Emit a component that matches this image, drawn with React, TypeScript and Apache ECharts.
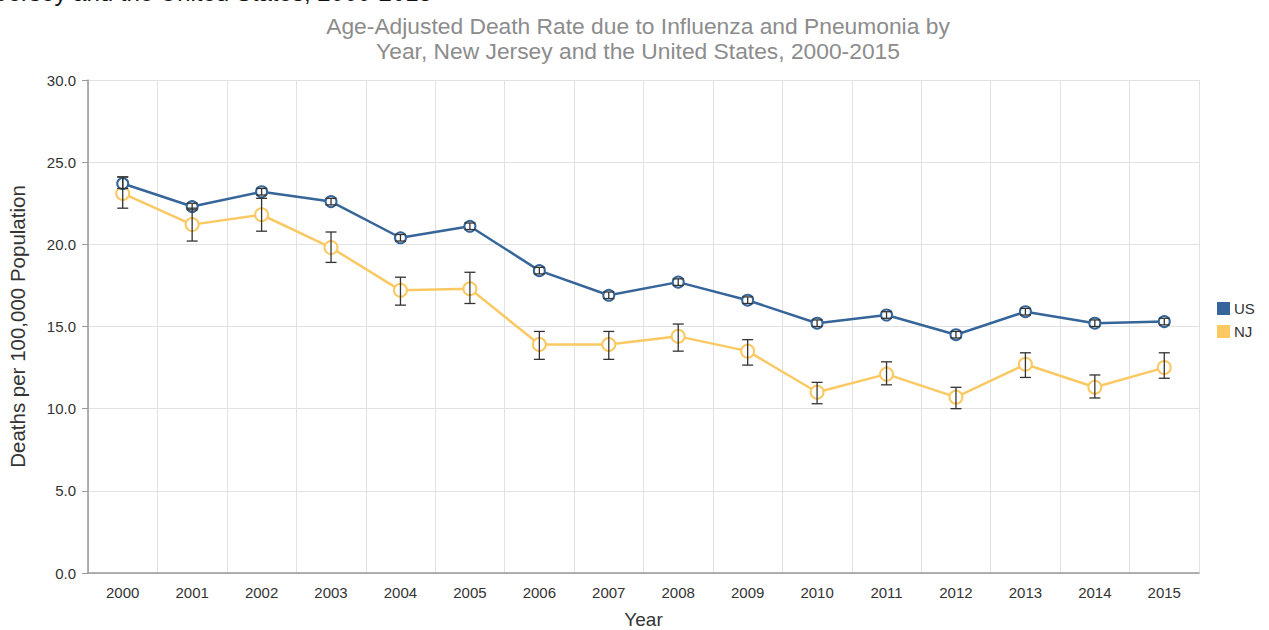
import React, { useEffect, useRef } from "react";
import * as echarts from "echarts";

const years = ["2000","2001","2002","2003","2004","2005","2006","2007","2008","2009","2010","2011","2012","2013","2014","2015"];
const usValues = [23.7, 22.3, 23.2, 22.6, 20.4, 21.1, 18.4, 16.9, 17.7, 16.6, 15.2, 15.7, 14.5, 15.9, 15.2, 15.3];
const usLow = [23.4, 22.1, 23.0, 22.4, 20.2, 20.9, 18.2, 16.7, 17.5, 16.4, 15.0, 15.5, 14.3, 15.7, 15.0, 15.1];
const usHigh = [24.1, 22.5, 23.4, 22.8, 20.6, 21.3, 18.6, 17.1, 17.9, 16.8, 15.4, 15.9, 14.7, 16.1, 15.4, 15.5];
const njValues = [23.1, 21.2, 21.8, 19.8, 17.2, 17.3, 13.9, 13.9, 14.4, 13.5, 11.0, 12.1, 10.7, 12.7, 11.3, 12.5];
const njLow = [22.2, 20.2, 20.8, 18.9, 16.3, 16.4, 13.0, 13.0, 13.5, 12.65, 10.3, 11.45, 10.0, 11.9, 10.65, 11.85];
const njHigh = [24.1, 22.2, 22.8, 20.75, 18.0, 18.3, 14.7, 14.7, 15.15, 14.2, 11.6, 12.85, 11.3, 13.4, 12.05, 13.4];

const US_COLOR = "#36659a";
const NJ_COLOR = "#fbc964";
const FONT = "Arial, Liberation Sans, sans-serif";

function errorSeries(name: string, low: number[], high: number[]) {
  return {
    type: "custom",
    name: name + " error",
    z: 5,
    silent: true,
    data: years.map((y, i) => [i, low[i], high[i]]),
    renderItem: (params: any, api: any) => {
      const x = api.value(0);
      const lo = api.coord([x, api.value(1)]);
      const hi = api.coord([x, api.value(2)]);
      const hw = 5.5;
      const style = { stroke: "#333", lineWidth: 1.3 };
      return {
        type: "group",
        children: [
          { type: "line", shape: { x1: lo[0], y1: lo[1], x2: hi[0], y2: hi[1] }, style },
          { type: "line", shape: { x1: lo[0] - hw, y1: lo[1], x2: lo[0] + hw, y2: lo[1] }, style },
          { type: "line", shape: { x1: hi[0] - hw, y1: hi[1], x2: hi[0] + hw, y2: hi[1] }, style },
        ],
      };
    },
  };
}

export default function App() {
  const ref = useRef<HTMLDivElement>(null);
  useEffect(() => {
    if (!ref.current) return;
    const chart = echarts.init(ref.current, null, { renderer: "svg" });
    chart.setOption({
      animation: false,
      backgroundColor: "#fff",
      title: {
        text: "Age-Adjusted Death Rate due to Influenza and Pneumonia by\nYear, New Jersey and the United States, 2000-2015",
        left: 633,
        textAlign: "center",
        top: 8,
        textStyle: {
          fontFamily: FONT,
          fontSize: 22.8,
          fontWeight: "normal",
          color: "#8c8c8c",
          lineHeight: 25,
        },
      },
      graphic: [
        {
          type: "text",
          x: 432,
          y: 4,
          style: {
            text: "Jersey and the United States, 2000-2015",
            fontFamily: FONT,
            fontSize: 24,
            fill: "#111",
            textAlign: "right",
            textVerticalAlign: "bottom",
          },
        },
      ],
      legend: {
        orient: "vertical",
        left: 1212,
        top: 296,
        itemWidth: 11,
        itemHeight: 11,
        itemGap: 8,
        icon: "rect",
        data: ["US", "NJ"],
        textStyle: { fontFamily: FONT, fontSize: 15, color: "#333" },
      },
      grid: { left: 88, right: 70, top: 80, bottom: 57, outerBoundsMode: "none", containLabel: false },
      xAxis: {
        type: "category",
        data: years,
        boundaryGap: true,
        name: "Year",
        nameLocation: "middle",
        nameGap: 37,
        nameTextStyle: { fontFamily: FONT, fontSize: 19, color: "#333" },
        axisLine: { lineStyle: { color: "#999", width: 1.5 } },
        axisTick: { lineStyle: { color: "#999" }, length: 6 },
        axisLabel: { fontFamily: FONT, fontSize: 15, color: "#333", margin: 12 },
        splitLine: { show: true, lineStyle: { color: "#e2e2e2" } },
      },
      yAxis: {
        type: "value",
        min: 0,
        max: 30,
        interval: 5,
        name: "Deaths per 100,000 Population",
        nameLocation: "middle",
        nameGap: 60,
        nameTextStyle: { fontFamily: FONT, fontSize: 20.5, color: "#333" },
        axisLine: { show: true, lineStyle: { color: "#999", width: 1.5 } },
        axisTick: { show: true, lineStyle: { color: "#999" }, length: 6 },
        axisLabel: {
          fontFamily: FONT,
          fontSize: 15,
          color: "#333",
          margin: 12,
          formatter: (v: number) => v.toFixed(1),
        },
        splitLine: { show: true, lineStyle: { color: "#e2e2e2" } },
      },
      series: [
        {
          name: "US",
          type: "line",
          data: usValues,
          color: US_COLOR,
          symbol: "emptyCircle",
          symbolSize: 11,
          lineStyle: { width: 2.5, color: US_COLOR },
          itemStyle: { color: US_COLOR, borderWidth: 2.5, borderColor: US_COLOR },
          z: 3,
        },
        {
          name: "NJ",
          type: "line",
          data: njValues,
          color: NJ_COLOR,
          symbol: "emptyCircle",
          symbolSize: 13,
          lineStyle: { width: 2.5, color: NJ_COLOR },
          itemStyle: { color: NJ_COLOR, borderWidth: 2.5, borderColor: NJ_COLOR },
          z: 2,
        },
        errorSeries("NJ", njLow, njHigh),
        errorSeries("US", usLow, usHigh),
      ],
    });
    return () => chart.dispose();
  }, []);
  return <div ref={ref} style={{ width: 1269, height: 630, position: "absolute", left: 0, top: 0 }} />;
}
